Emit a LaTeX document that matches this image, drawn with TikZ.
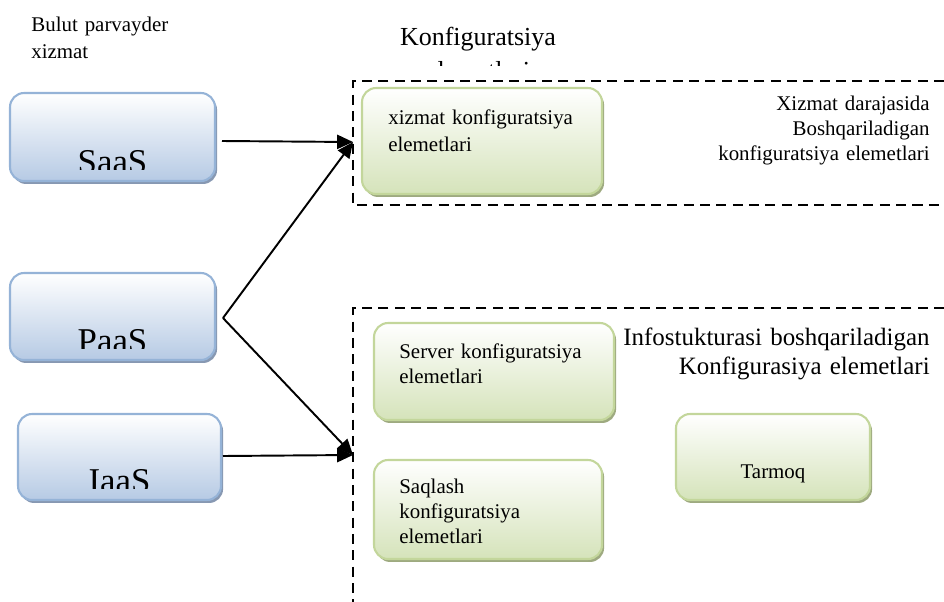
\documentclass[tikz,border=0pt]{standalone}
\usepackage{fontspec}
\setmainfont{Liberation Serif}
\usetikzlibrary{arrows.meta,shadows}

\definecolor{blueedge}{RGB}{149,179,215}
\definecolor{bluefill}{RGB}{182,202,228}
\definecolor{blueshade}{RGB}{135,152,178}
\definecolor{greenedge}{RGB}{195,214,155}
\definecolor{greenfill}{RGB}{213,227,186}
\definecolor{greenshade}{RGB}{158,170,128}

\tikzset{
  bluebox/.style={draw=blueedge, line width=1.2pt, rounded corners=8pt,
    top color=white, bottom color=bluefill, inner sep=0pt,
    drop shadow={shadow xshift=1.2pt, shadow yshift=-1.7pt, fill=blueshade, opacity=1}},
  greenbox/.style={draw=greenedge, line width=1.2pt, rounded corners=8pt,
    top color=white, bottom color=greenfill, inner sep=0pt,
    drop shadow={shadow xshift=1.2pt, shadow yshift=-1.7pt, fill=greenshade, opacity=1}},
  lbl/.style={inner sep=0pt, font=\fontsize{11.9}{14.5}\selectfont},
  widelbl/.style={inner sep=0pt, font=\fontsize{11.9}{15.5}\selectfont},
  biglbl/.style={inner sep=0pt, font=\fontsize{14.2}{17}\selectfont},
  saastxt/.style={inner sep=0pt, font=\fontsize{19.8}{22}\selectfont},
  frame/.style={line width=1.1pt, dash pattern=on 5.7pt off 3.6pt},
  conn/.style={line width=1.1pt, -{Triangle[length=9pt,width=8pt]}}
}

\begin{document}
\begin{tikzpicture}[x=0.02cm, y=-0.02cm]
\useasboundingbox (0,0) rectangle (944,602);

% dashed regions
\draw[frame] (944,81) -- (353,81) -- (353,205) -- (944,205);
\draw[frame] (944,308) -- (353,308) -- (353,602);

% headings
\node[widelbl, anchor=base west, text width=4cm, align=left] (bulut) at (31,31) {Bulut parvayder\\xizmat};
\begin{scope}
  \clip (380,0) rectangle (600,65);
  \node[biglbl, anchor=base, text width=5cm, align=center, font=\fontsize{14.8}{19.5}\selectfont] (konf) at (478,45) {Konfiguratsiya\\elemetlari};
\end{scope}
\node[lbl, anchor=base east, text width=6cm, align=right] (xdar) at (930,110) {Xizmat darajasida\\Boshqariladigan\\konfiguratsiya elemetlari};
\node[biglbl, anchor=base east, text width=8cm, align=right] (infra) at (930,345) {Infostukturasi boshqariladigan\\Konfigurasiya elemetlari};

% cloud services
\node[bluebox, minimum width=4.1cm, minimum height=1.76cm] (saas) at (112.5,137) {};
\node[bluebox, minimum width=4.1cm, minimum height=1.74cm] (paas) at (112.5,316.5) {};
\node[bluebox, minimum width=4.06cm, minimum height=1.72cm] (iaas) at (119.5,457) {};
\foreach \b/\t in {saas/SaaS, paas/PaaS, iaas/IaaS} {
  \begin{scope}
    \clip ([xshift=-3pt]\b.north west) rectangle ([yshift=7pt]\b.south east);
    \node[saastxt, anchor=base] (\b-txt) at ([yshift=4.8pt]\b.south) {\t};
  \end{scope}
}

% configuration items
\node[greenbox, minimum width=4.8cm, minimum height=2.12cm] (xizmat) at (482,141) {};
\node[greenbox, minimum width=4.8cm, minimum height=1.94cm] (server) at (494,371.5) {};
\node[greenbox, minimum width=4.56cm, minimum height=1.98cm] (saqlash) at (488,509.5) {};
\node[greenbox, minimum width=3.88cm, minimum height=1.72cm] (tarmoq) at (773,457) {};
\node[widelbl, anchor=base west, text width=4.4cm, align=left] (xizmat-txt) at (388,124) {xizmat konfiguratsiya\\elemetlari};
\node[lbl, anchor=base west, text width=4.4cm, align=left] (server-txt) at (399,358) {Server konfiguratsiya\\elemetlari};
\node[lbl, anchor=base west, text width=4.4cm, align=left] (saqlash-txt) at (399,493) {Saqlash\\konfiguratsiya\\elemetlari};
\node[lbl, anchor=base] (tarmoq-txt) at (773,478) {Tarmoq};

% connectors
\coordinate (saasout) at (222,141);
\coordinate (paasout) at (223,318);
\coordinate (iaasout) at (223,456);
\coordinate (svcin) at (353,142);
\coordinate (infin) at (353,455);
\draw[conn] (saasout) -- (svcin);
\draw[conn] (paasout) -- (svcin);
\draw[conn] (paasout) -- (infin);
\draw[conn] (iaasout) -- (infin);
\end{tikzpicture}
\end{document}
